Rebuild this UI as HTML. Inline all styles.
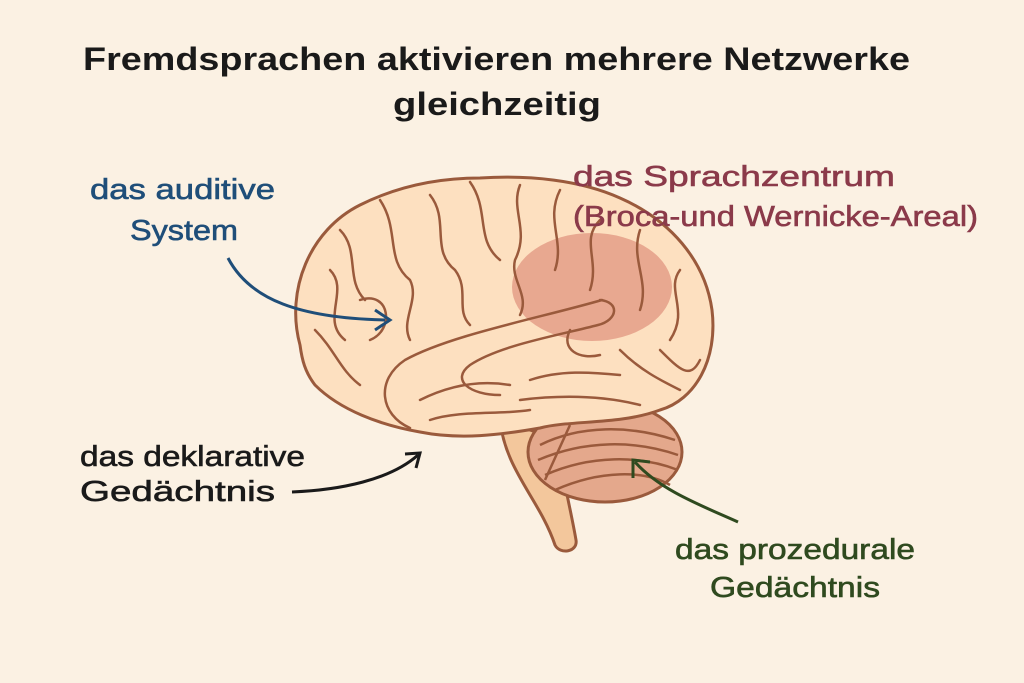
<!DOCTYPE html>
<html><head><meta charset="utf-8"><style>
body{margin:0;background:#fbf1e3;}
svg{display:block}
text{font-family:"Liberation Sans",sans-serif}
</style></head><body>
<svg width="1024" height="683" viewBox="0 0 1024 683">
<rect width="1024" height="683" fill="#fbf1e3"/>
<text x="83" y="70" font-size="32" font-weight="bold" fill="#1a1a1a" textLength="827" lengthAdjust="spacingAndGlyphs">Fremdsprachen aktivieren mehrere Netzwerke</text>
<text x="393" y="115" font-size="32" font-weight="bold" fill="#1a1a1a" textLength="208" lengthAdjust="spacingAndGlyphs">gleichzeitig</text>

<!-- brainstem -->
<path d="M500,420 C505,470 540,500 555,545 C560,555 578,552 576,540 C570,505 560,470 560,440 Z" fill="#f3c79c" stroke="#9a5a3c" stroke-width="3"/>
<!-- cerebellum -->
<ellipse cx="605" cy="452" rx="77" ry="50" fill="#e4a88c" stroke="#9a5a3c" stroke-width="3"/>
<g stroke="#9a5a3c" stroke-width="2.5" fill="none">
<path d="M540,445 C580,425 630,425 675,440"/>
<path d="M538,460 C585,440 635,440 678,455"/>
<path d="M545,475 C590,455 640,455 678,470"/>
<path d="M555,490 C600,470 645,470 670,485"/>
<path d="M570,425 L545,480"/>
</g>
<!-- cerebrum -->
<path d="M300,345 C285,290 310,230 360,205 C400,185 440,178 480,178 C530,175 580,180 620,198 C670,220 705,260 712,310 C718,360 695,400 660,410 C620,425 570,420 540,428 C500,435 460,440 420,432 C380,425 340,410 315,385 C305,372 302,360 300,345 Z" fill="#fde0c0" stroke="#9a5a3c" stroke-width="3"/>
<ellipse cx="592" cy="287" rx="80" ry="54" fill="#e8a890"/>
<g stroke="#9a5a3c" stroke-width="2.5" fill="none" stroke-linecap="round">
<path d="M602,300 C540,318 450,335 405,360 C375,380 380,415 410,428"/>
<path d="M600,300 C620,302 618,320 598,325 C560,335 500,345 470,365 C450,380 470,395 500,395"/>
<path d="M340,230 C360,250 345,280 365,300"/>
<path d="M380,200 C400,230 385,260 410,280 C420,300 400,320 410,340"/>
<path d="M430,195 C450,220 430,250 455,270 C470,290 455,310 470,325"/>
<path d="M470,182 C490,210 475,240 500,260"/>
<path d="M520,185 C510,210 530,230 515,260 C510,280 530,295 520,315"/>
<path d="M560,190 C545,220 565,240 555,270"/>
<path d="M600,220 C580,240 600,260 590,290"/>
<path d="M640,230 C630,260 650,280 640,310"/>
<path d="M680,270 C665,290 690,310 670,340"/>
<path d="M330,270 C350,290 320,320 345,340"/>
<path d="M360,300 C390,290 395,330 370,340"/>
<path d="M315,330 C335,350 340,370 360,385"/>
<path d="M660,350 C680,370 690,380 700,360"/>
<path d="M620,350 C640,370 660,380 680,390"/>
<path d="M420,400 C450,385 480,380 510,385"/>
<path d="M530,380 C560,370 590,372 620,375"/>
<path d="M430,420 C460,410 500,415 530,410"/>
<path d="M570,330 C560,350 580,360 600,355"/>
<path d="M520,400 C560,395 600,395 640,405"/>
</g>
<!-- arrows -->
<path d="M228,258 C250,300 300,318 385,320" stroke="#1f4e79" stroke-width="3" fill="none"/>
<path d="M375,310 L390,320 L375,330" stroke="#1f4e79" stroke-width="3" fill="none"/>
<path d="M292,492 C340,490 390,480 418,455" stroke="#1a1a1a" stroke-width="3" fill="none"/>
<path d="M405,454 L420,453 L416,468" stroke="#1a1a1a" stroke-width="3" fill="none"/>
<path d="M738,522 C700,505 660,490 635,462" stroke="#2f4a1f" stroke-width="3" fill="none"/>
<path d="M633,478 L633,460 L650,462" stroke="#2f4a1f" stroke-width="3" fill="none"/>
<!-- labels -->
<g font-size="29" stroke-width="0.6">
<text x="90" y="199" fill="#1f4e79" stroke="#1f4e79" textLength="185" lengthAdjust="spacingAndGlyphs">das auditive</text>
<text x="130" y="240" fill="#1f4e79" stroke="#1f4e79" textLength="108" lengthAdjust="spacingAndGlyphs">System</text>
<text x="573" y="186" fill="#8b3a4a" stroke="#8b3a4a" textLength="322" lengthAdjust="spacingAndGlyphs">das Sprachzentrum</text>
<text x="573" y="226" fill="#8b3a4a" stroke="#8b3a4a" textLength="405" lengthAdjust="spacingAndGlyphs">(Broca-und Wernicke-Areal)</text>
<text x="80" y="466" fill="#1a1a1a" stroke="#1a1a1a" textLength="225" lengthAdjust="spacingAndGlyphs">das deklarative</text>
<text x="80" y="501" fill="#1a1a1a" stroke="#1a1a1a" textLength="195" lengthAdjust="spacingAndGlyphs">Gedächtnis</text>
<text x="675" y="559" fill="#2f4a1f" stroke="#2f4a1f" textLength="240" lengthAdjust="spacingAndGlyphs">das prozedurale</text>
<text x="710" y="597" fill="#2f4a1f" stroke="#2f4a1f" textLength="170" lengthAdjust="spacingAndGlyphs">Gedächtnis</text>
</g>
</svg>
</body></html>
